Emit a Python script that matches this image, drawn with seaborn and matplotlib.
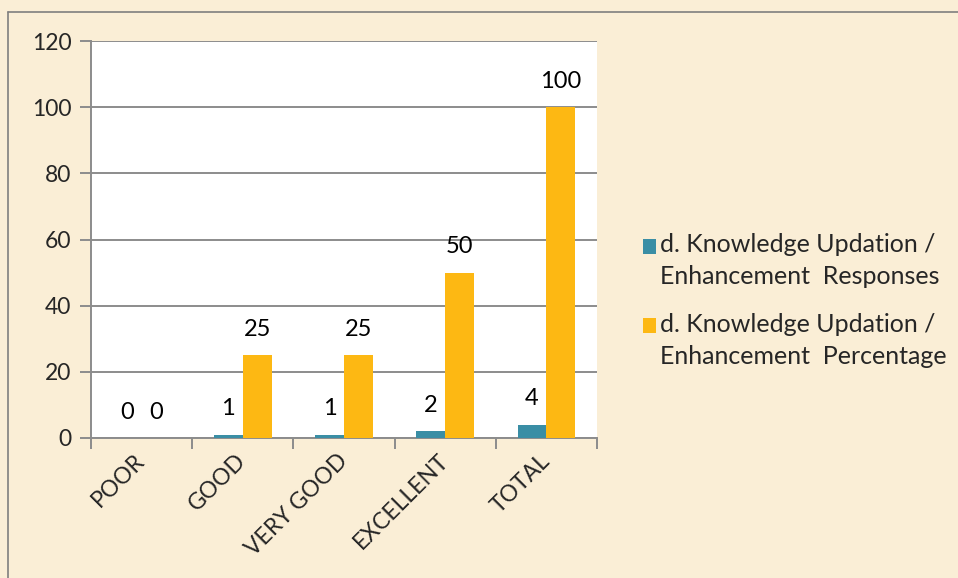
import pandas as pd
import numpy as np
import matplotlib.pyplot as plt
import seaborn as sns
from matplotlib.lines import Line2D

# chart values
categories = ["POOR", "GOOD", "VERY GOOD", "EXCELLENT", "TOTAL"]
responses = [0, 1, 1, 2, 4]
percentage = [0, 25, 25, 50, 100]
series_names = ["d. Knowledge Updation /\nEnhancement  Responses",
                "d. Knowledge Updation /\nEnhancement  Percentage"]
y_ticks = [0, 20, 40, 60, 80, 100, 120]

df = pd.DataFrame({
    "category": categories * 2,
    "value": responses + percentage,
    "series": [series_names[0]] * len(categories) + [series_names[1]] * len(categories),
})

sns.set_style("white")
plt.rcParams["font.family"] = ["Lato", "DejaVu Sans"]

bg = "#FAEED6"
fig = plt.figure(figsize=(9.58, 5.78), dpi=100, facecolor=bg)
ax = fig.add_axes([91 / 958, 1 - 438 / 578, 506 / 958, 397 / 578])
ax.set_facecolor("white")

palette = {series_names[0]: "#3A8EA5", series_names[1]: "#FDB813"}
sns.barplot(data=df, x="category", y="value", hue="series", order=categories,
            hue_order=series_names, palette=palette, width=0.57, saturation=1,
            edgecolor="none", ax=ax, zorder=3)

for cont in ax.containers:
    ax.bar_label(cont, fmt="%d", padding=11, fontsize=17, color="black")

# axes and grid
ax.set_ylim(0, 120)
ax.set_yticks(y_ticks)
ax.set_xlim(-0.5, len(categories) - 0.5)
ax.yaxis.grid(True, color="#8C8C8C", linewidth=1.4, zorder=0)
ax.set_axisbelow(True)
for s in ["top", "right"]:
    ax.spines[s].set_visible(False)
for s in ["left", "bottom"]:
    ax.spines[s].set_color("#8C8C8C")
    ax.spines[s].set_linewidth(1.4)
ax.tick_params(axis="y", left=True, length=8, width=1.4, color="#8C8C8C",
               labelsize=16.5, pad=6)
ax.set_xticks(np.arange(len(categories) + 1) - 0.5, minor=True)
ax.tick_params(axis="x", which="minor", bottom=True, length=8, width=1.4,
               color="#8C8C8C")
ax.tick_params(axis="x", which="major", bottom=False, length=0, labelsize=16.5, pad=14)
ax.set_xticks(range(len(categories)))
ax.set_xticklabels(categories, rotation=45, ha="right", va="center",
                   rotation_mode="anchor")
ax.set_xlabel("")
ax.set_ylabel("")

# legend
handles, labels = ax.get_legend_handles_labels()
ax.legend_.remove()
leg = fig.legend(handles, labels, loc="upper left",
                 bbox_to_anchor=(620 / 958, 1 - 211 / 578), frameon=False,
                 fontsize=18, handlelength=0.55, handleheight=0.55,
                 handletextpad=0.15, labelspacing=1.0)
for t in leg.get_texts():
    t.set_linespacing(1.45)
# put the colour squares level with the first text line, like the reference
for h in leg.legend_handles:
    h.set_y(h.get_y() + 11)

# outer chart border
fig.add_artist(Line2D([8 / 958, 8 / 958], [0, 1 - 12 / 578],
                      transform=fig.transFigure, color="#7F7F7F", linewidth=1.2))
fig.add_artist(Line2D([8 / 958, 1], [1 - 12 / 578, 1 - 12 / 578],
                      transform=fig.transFigure, color="#7F7F7F", linewidth=1.2))

fig.savefig("out.png", dpi=100, facecolor=bg)
